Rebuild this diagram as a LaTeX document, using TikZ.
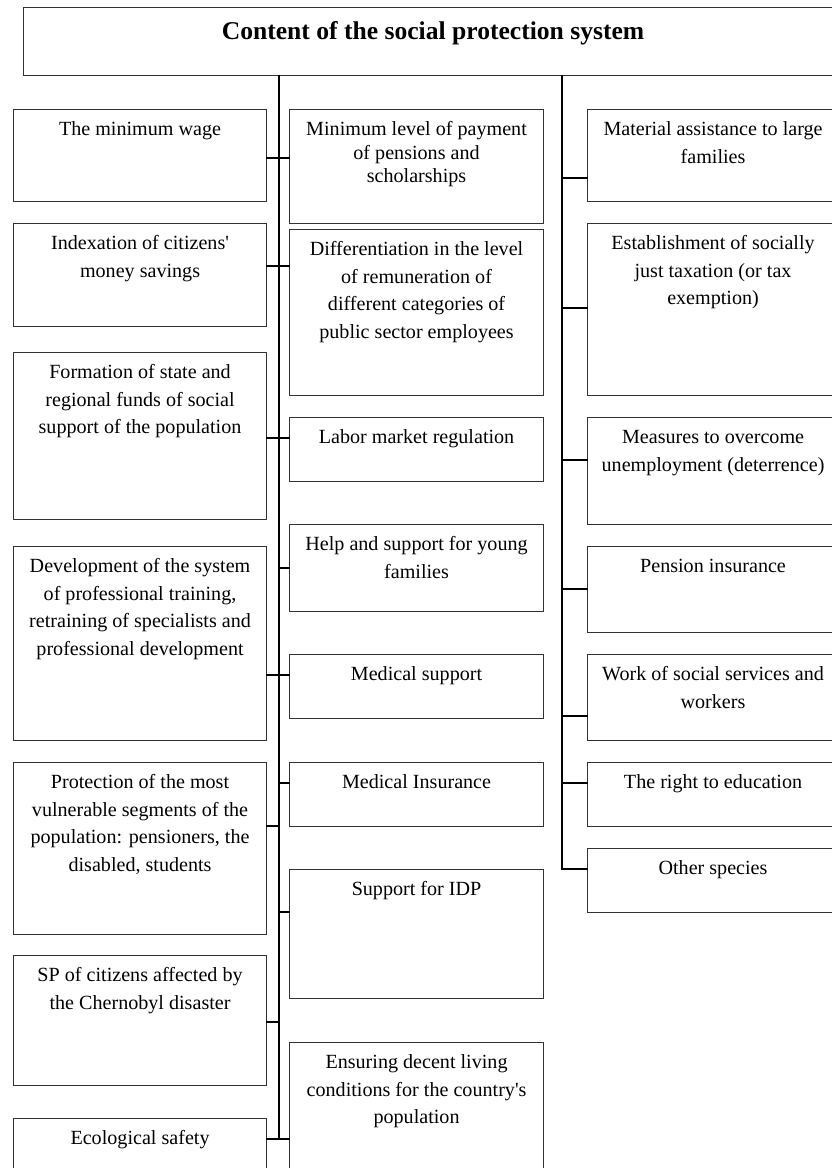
\documentclass[tikz,border=0pt]{standalone}
\usepackage{fontspec}
\setmainfont{Liberation Serif}[Ligatures=TeXOff]
\usetikzlibrary{positioning}

\newlength{\unitpx}
\setlength{\unitpx}{0.547pt}
% text of a box: [first baseline]{width}{height}{text}
\newcommand{\boxtext}[4][26]{\parbox[t][#3\unitpx][t]{#2\unitpx}{\centering\rule{0pt}{#1\unitpx}#4}}

\begin{document}
\begin{tikzpicture}[x=0.547pt,y=-0.547pt]
  % Local definitions
  \def\colL{13}
  \def\colM{289}
  \def\colR{587}

  % Colors
  \colorlet{boxcolor}{black!80}
  \colorlet{linkcolor}{black}

  % Styles
  \tikzstyle{item}=[draw=boxcolor,line width=0.6pt,inner sep=0pt,anchor=north west,font=\fontsize{11}{15.1}\selectfont]
  \tikzstyle{link}=[draw=linkcolor,line width=1.1pt,line cap=rect]

  \useasboundingbox (0,0) rectangle (832,1168);

  % The graphic
  \node[item,font=\fontsize{14}{16}\selectfont\bfseries] (title) at (23,7)
    {\boxtext[32]{819}{68}{Content of the social protection system}};

  % left column
  \node[item] (l1) at (\colL,109) {\boxtext{253}{92}{The minimum wage}};
  \node[item] (l2) at (\colL,223) {\boxtext{253}{103}{Indexation of citizens'\\ money savings}};
  \node[item] (l3) at (\colL,352) {\boxtext{253}{167}{Formation of state and\\ regional funds of social\\ support of the population}};
  \node[item] (l4) at (\colL,546) {\boxtext{253}{194}{Development of the system\\ of professional training,\\ retraining of specialists and\\ professional development}};
  \node[item] (l5) at (\colL,762) {\boxtext{253}{172}{Protection of the most\\ vulnerable segments of the\\ population: pensioners, the\\ disabled, students}};
  \node[item] (l6) at (\colL,955) {\boxtext{253}{130}{SP of citizens affected by\\ the Chernobyl disaster}};
  \node[item] (l7) at (\colL,1118) {\boxtext{253}{60}{Ecological safety}};

  % middle column
  \node[item,font=\fontsize{11}{12.85}\selectfont] (m1) at (\colM,109) {\boxtext{254}{114}{Minimum level of payment\\ of pensions and\\ scholarships}};
  \node[item] (m2) at (\colM,229) {\boxtext{254}{166}{Differentiation in the level\\ of remuneration of\\ different categories of\\ public sector employees}};
  \node[item] (m3) at (\colM,417) {\boxtext{254}{64}{Labor market regulation}};
  \node[item] (m4) at (\colM,524) {\boxtext{254}{87}{Help and support for young\\ families}};
  \node[item] (m5) at (\colM,654) {\boxtext{254}{64}{Medical support}};
  \node[item] (m6) at (\colM,762) {\boxtext{254}{64}{Medical Insurance}};
  \node[item] (m7) at (\colM,869) {\boxtext{254}{129}{Support for IDP}};
  \node[item] (m8) at (\colM,1042) {\boxtext{254}{140}{Ensuring decent living\\ conditions for the country's\\ population}};

  % right column
  \node[item] (r1) at (\colR,109) {\boxtext{251}{92}{Material assistance to large\\ families}};
  \node[item] (r2) at (\colR,223) {\boxtext{251}{172}{Establishment of socially\\ just taxation (or tax\\ exemption)}};
  \node[item] (r3) at (\colR,417) {\boxtext{251}{107}{Measures to overcome\\ unemployment (deterrence)}};
  \node[item] (r4) at (\colR,546) {\boxtext{251}{86}{Pension insurance}};
  \node[item] (r5) at (\colR,654) {\boxtext{251}{86}{Work of social services and\\ workers}};
  \node[item] (r6) at (\colR,762) {\boxtext{251}{64}{The right to education}};
  \node[item] (r7) at (\colR,848) {\boxtext{251}{64}{Other species}};

  % spines
  \coordinate (spineL) at (title.south -| 279,0);
  \coordinate (spineR) at (title.south -| 562,0);
  \draw[link] (spineL) -- (spineL |- 0,1139);
  \draw[link] (spineR) -- (spineR |- 0,869) -- (r7.west |- 0,869);

  % branches
  \foreach \a/\b/\h in {l1/m1/158,l2/m2/266,l3/m3/438,l4/m5/675,l7/m8/1139}
    \draw[link] (\a.east |- 0,\h) -- (\b.west |- 0,\h);
  \foreach \b/\h in {m4/568,m6/783,m7/912}
    \draw[link] (spineL |- 0,\h) -- (\b.west |- 0,\h);
  \foreach \a/\h in {l5/826,l6/1022}
    \draw[link] (\a.east |- 0,\h) -- (spineL |- 0,\h);
  \foreach \b/\h in {r1/178,r2/308,r3/460,r4/589,r5/716,r6/783}
    \draw[link] (spineR |- 0,\h) -- (\b.west |- 0,\h);
\end{tikzpicture}
\end{document}
